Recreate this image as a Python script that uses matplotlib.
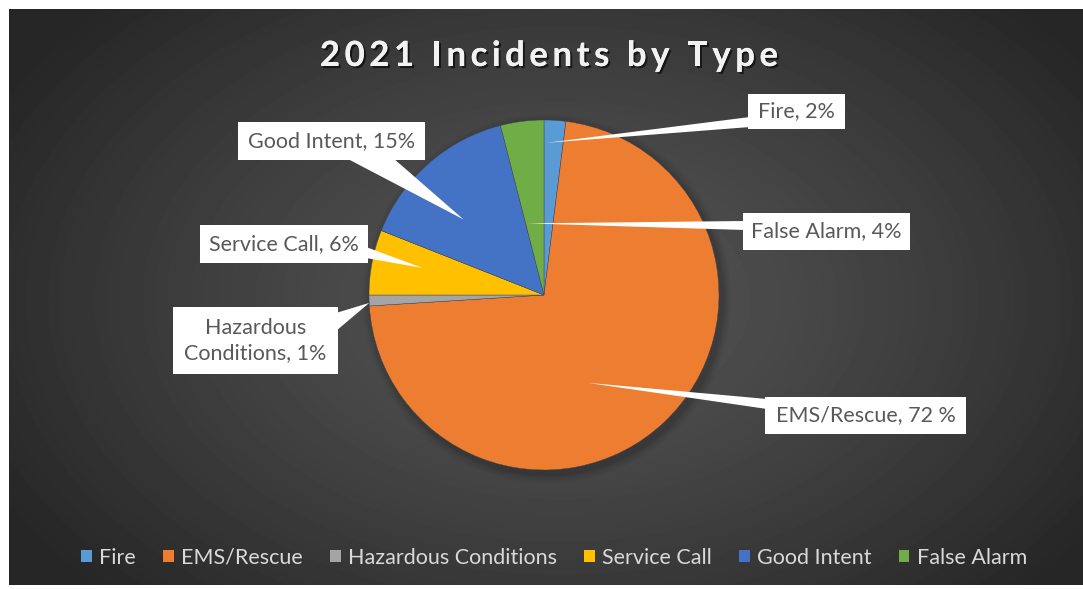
import numpy as np
import matplotlib
matplotlib.use("Agg")
import matplotlib.pyplot as plt
from matplotlib.patches import Polygon, Rectangle, Patch, Circle
from matplotlib import patheffects

# incident share by type, in percent
categories = ["Fire", "EMS/Rescue", "Hazardous Conditions", "Service Call", "Good Intent", "False Alarm"]
shares = [2, 72, 1, 6, 15, 4]
callout_names = ["Fire", "EMS/Rescue", "Hazardous\nConditions", "Service Call", "Good Intent", "False Alarm"]
pct_sep = ["%", " %", "%", "%", "%", "%"]
colors = ["#5B9BD5", "#ED7D31", "#A5A5A5", "#FFC000", "#4472C4", "#70AD47"]
title = "2021 Incidents by Type"

W, H = 1083, 589
fig = plt.figure(figsize=(W / 100, H / 100), dpi=100, facecolor="white")
ax = fig.add_axes([0, 0, 1, 1])

def up(y):
    # pixel rows counted from the top -> axes y (up)
    return H - y

# dark radial-gradient panel
px0, px1, py0, py1 = 9, W, 9, 585
yy, xx = np.mgrid[py0:py1, px0:px1]
d = np.sqrt(((xx - 560) / 640.0) ** 2 + ((yy - 300) / 420.0) ** 2)
shade = 0.33 - 0.18 * np.clip(d, 0, 1) ** 1.3
ax.imshow(shade, extent=(px0, px1, up(py1), up(py0)), cmap="gray", vmin=0, vmax=1,
          origin="upper", interpolation="bilinear", zorder=0)

# pie with a soft drop shadow
cx, cy, R = 544, up(295), 175
for k, a in enumerate(np.linspace(0.05, 0.015, 6)):
    ax.add_patch(Circle((cx + 3, cy - 4), R + 2 + k * 1.5, color="black", alpha=a, lw=0, zorder=1))
wedges, _ = ax.pie(shares, colors=colors, startangle=90, counterclock=False,
                   center=(cx, cy), radius=R,
                   wedgeprops=dict(linewidth=0.3, edgecolor="#3a4452"))
for w in wedges:
    w.set_zorder(2)

# callout boxes: (left, top, right, bottom) in pixels from the top-left
boxes = [(748, 94, 845, 129), (765, 397, 966, 434), (173, 307, 338, 374),
         (200, 225, 368, 263), (238, 122, 425, 160), (743, 213, 910, 250)]
# where the pointer leaves the box
bases = [((750, 117), (750, 127)), ((767, 399), (767, 409)), ((336, 313), (336, 331)),
         ((366, 247), (366, 258)), ((346, 158), (393, 158)), ((745, 221), (745, 230))]
# pointer tip: fraction across the wedge angle, fraction of radius
tips = [(0.85, 0.87), (0.435, 0.56), (0.72, 1.0), (0.42, 0.71), (0.6, 0.63), (0.9, 0.42)]

for i, w in enumerate(wedges):
    f, rf = tips[i]
    th = np.deg2rad(w.theta1 + f * (w.theta2 - w.theta1))
    tip = (cx + rf * R * np.cos(th), cy + rf * R * np.sin(th))
    (b1x, b1y), (b2x, b2y) = bases[i]
    ax.add_patch(Polygon([(b1x, up(b1y)), (b2x, up(b2y)), tip], closed=True,
                         fc="white", ec="none", zorder=3))
    l, t, r, b = boxes[i]
    ax.add_patch(Rectangle((l, up(b)), r - l, b - t, fc="white", ec="none", zorder=4))
    label = f"{callout_names[i]}, {shares[i]}{pct_sep[i]}"
    ax.text((l + r) / 2, up((t + b) / 2), label, ha="center", va="center",
            fontsize=15.5, family="Lato", color="#595959", linespacing=1.3, zorder=5)

ax.set_xlim(0, W)
ax.set_ylim(0, H)
ax.set_aspect("auto")
ax.axis("off")

# letter-spaced title, placed one glyph at a time
renderer = fig.canvas.get_renderer()
tprops = dict(fontsize=25, weight="bold", family="Lato")
spacing = 4.5

def width_px(s):
    if not s:
        return 0.0
    t = ax.text(0, 0, s + "|", **tprops)
    bar = ax.text(0, 0, "|", **tprops)
    wdt = t.get_window_extent(renderer).width - bar.get_window_extent(renderer).width
    t.remove()
    bar.remove()
    return wdt

total = width_px(title) + spacing * (len(title) - 1)
x0 = 549 - total / 2
shadow = [patheffects.withSimplePatchShadow(offset=(1.5, -1.5), shadow_rgbFace="black", alpha=0.6),
          patheffects.Normal()]
for i, ch in enumerate(title):
    if ch == " ":
        continue
    ax.text(x0 + width_px(title[:i]) + spacing * i, up(56), ch, ha="left", va="center",
            color="#f2f2f2", zorder=5, path_effects=shadow, **tprops)

handles = [Patch(facecolor=c, edgecolor="none") for c in colors]
fig.legend(handles, categories, loc="center", bbox_to_anchor=(554 / W, 1 - 558 / H),
           ncol=6, frameon=False, prop={"family": "Lato", "size": 15.5},
           labelcolor="#d9d9d9", handlelength=0.5, handleheight=0.5,
           handletextpad=0.35, columnspacing=1.25)

fig.savefig("out.png", dpi=100, facecolor="white")
